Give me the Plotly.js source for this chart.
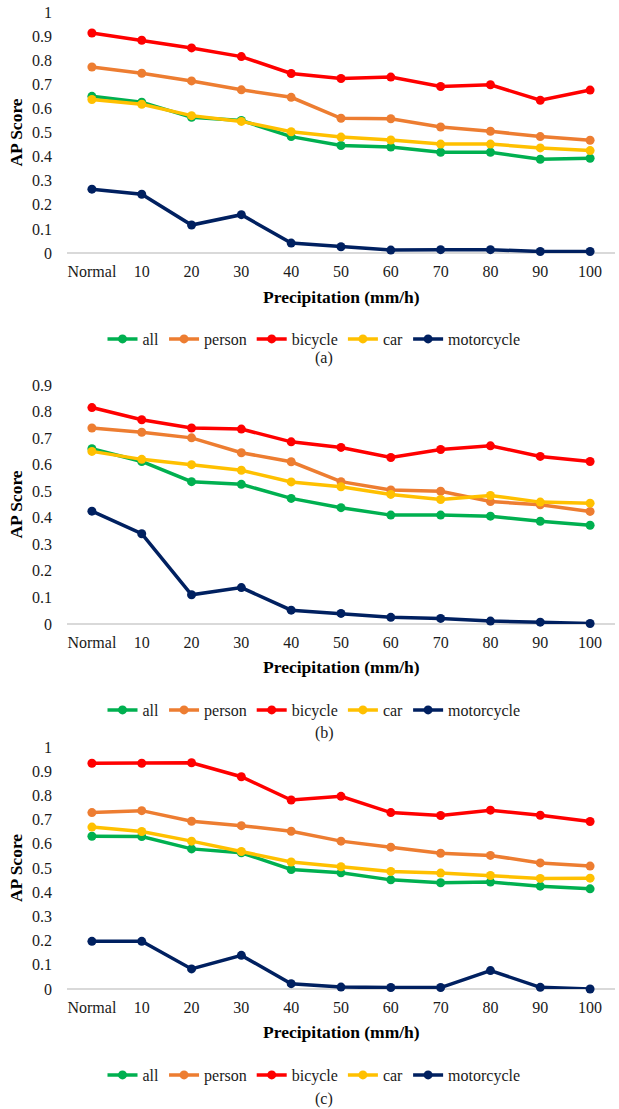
<!DOCTYPE html>
<html>
<head>
<meta charset="utf-8">
<script src="https://cdn.plot.ly/plotly-3.0.1.min.js"></script>
<style>html,body{margin:0;padding:0;background:#fff}#chart{width:619px;height:1109px}</style>
</head>
<body>
<div id="chart"></div>
<script>
const categories = ["Normal","10","20","30","40","50","60","70","80","90","100"];
const seriesNames = ["all","person","bicycle","car","motorcycle"];
const seriesColors = ["#00B050","#ED7D31","#FF0000","#FFC000","#002060"];

// (a)
const a_all        = [0.650,0.626,0.563,0.550,0.483,0.446,0.440,0.418,0.418,0.389,0.393];
const a_person     = [0.772,0.746,0.714,0.677,0.646,0.559,0.557,0.523,0.505,0.483,0.468];
const a_bicycle    = [0.913,0.883,0.851,0.815,0.745,0.724,0.730,0.691,0.698,0.634,0.676];
const a_car        = [0.637,0.617,0.570,0.546,0.503,0.481,0.469,0.452,0.452,0.436,0.425];
const a_motorcycle = [0.265,0.244,0.116,0.159,0.041,0.026,0.012,0.014,0.014,0.006,0.006];

// (b)
const b_all        = [0.660,0.612,0.536,0.526,0.473,0.438,0.410,0.410,0.406,0.387,0.372];
const b_person     = [0.738,0.722,0.701,0.645,0.611,0.536,0.505,0.500,0.461,0.449,0.424];
const b_bicycle    = [0.815,0.769,0.738,0.734,0.686,0.665,0.627,0.657,0.671,0.631,0.612];
const b_car        = [0.650,0.620,0.600,0.579,0.535,0.517,0.488,0.469,0.484,0.459,0.455];
const b_motorcycle = [0.425,0.340,0.110,0.137,0.052,0.040,0.025,0.021,0.011,0.007,0.002];

// (c)
const c_all        = [0.631,0.630,0.579,0.563,0.494,0.480,0.451,0.439,0.442,0.425,0.414];
const c_person     = [0.729,0.737,0.693,0.675,0.652,0.611,0.586,0.561,0.552,0.521,0.508];
const c_bicycle    = [0.933,0.933,0.935,0.877,0.781,0.796,0.729,0.717,0.739,0.718,0.692];
const c_car        = [0.669,0.651,0.611,0.568,0.525,0.505,0.486,0.479,0.469,0.457,0.458];
const c_motorcycle = [0.197,0.197,0.083,0.139,0.022,0.008,0.006,0.006,0.076,0.007,0.000];

const panels = [
  {data:[a_all,a_person,a_bicycle,a_car,a_motorcycle], xa:"x",  ya:"y",  leg:"legend",  label:"(a)"},
  {data:[b_all,b_person,b_bicycle,b_car,b_motorcycle], xa:"x2", ya:"y2", leg:"legend2", label:"(b)"},
  {data:[c_all,c_person,c_bicycle,c_car,c_motorcycle], xa:"x3", ya:"y3", leg:"legend3", label:"(c)"}
];

const W = 619, H = 1109;
const FONT = "Liberation Serif";
const TXT = "#1a1a1a";
const traces = [];
panels.forEach(p => {
  p.data.forEach((vals, i) => {
    traces.push({
      type: "scatter", mode: "lines+markers",
      x: categories, y: vals, name: seriesNames[i],
      xaxis: p.xa, yaxis: p.ya, legend: p.leg,
      line: {color: seriesColors[i], width: 3.5},
      marker: {color: seriesColors[i], size: 9},
      cliponaxis: false
    });
  });
});

function py(v){ return 1 - v / H; }
const xdom = [67/W, 615/W];
const axisPx = [
  {top: 12,  bottom: 253, max: 1.0},
  {top: 385, bottom: 624, max: 0.9},
  {top: 747, bottom: 989, max: 1.0}
];
const xTitleY = [297, 667, 1032];
const legendY = [339, 710, 1075];
const labelY = [358, 733, 1099];

const layout = {
  width: W, height: H,
  margin: {l:0, r:0, t:0, b:0},
  paper_bgcolor: "#fff", plot_bgcolor: "#fff",
  font: {family: FONT, size: 16, color: TXT},
  showlegend: true,
  annotations: []
};

axisPx.forEach((a, k) => {
  const sfx = k === 0 ? "" : String(k + 1);
  layout["xaxis" + sfx] = {
    domain: xdom, anchor: "y" + sfx, type: "category",
    range: [-0.5, 10.5], showgrid: false, zeroline: false,
    showline: false, ticks: "", tickfont: {family: FONT, size: 16, color: TXT},
    ticklabelstandoff: 7, fixedrange: true
  };
  layout["yaxis" + sfx] = {
    domain: [py(a.bottom), py(a.top)], anchor: "x" + sfx,
    range: [0, a.max], dtick: 0.1, showgrid: false,
    zeroline: true, zerolinecolor: "#d9d9d9", zerolinewidth: 1.3,
    showline: false, ticks: "", tickfont: {family: FONT, size: 16, color: TXT},
    ticklabelstandoff: 14, fixedrange: true,
    title: {text: "<b>AP Score</b>", font: {family: FONT, size: 17.5, color: "#000"}, standoff: 4}
  };
  const lk = k === 0 ? "legend" : "legend" + (k + 1);
  layout[lk] = {
    orientation: "h", x: 314/W, xanchor: "center", y: py(legendY[k]), yanchor: "middle",
    font: {family: FONT, size: 16, color: TXT}, bgcolor: "rgba(0,0,0,0)",
    itemwidth: 30, tracegroupgap: 0
  };
  layout.annotations.push({
    text: "<b>Precipitation (mm/h)</b>", xref: "paper", yref: "paper",
    x: 341/W, y: py(xTitleY[k]), xanchor: "center", yanchor: "middle",
    showarrow: false, font: {family: FONT, size: 17.5, color: "#000"}
  });
  layout.annotations.push({
    text: panels[k].label, xref: "paper", yref: "paper",
    x: 324/W, y: py(labelY[k]), xanchor: "center", yanchor: "middle",
    showarrow: false, font: {family: FONT, size: 16, color: TXT}
  });
});

Plotly.newPlot("chart", traces, layout, {staticPlot: true, displayModeBar: false});
</script>
</body>
</html>
